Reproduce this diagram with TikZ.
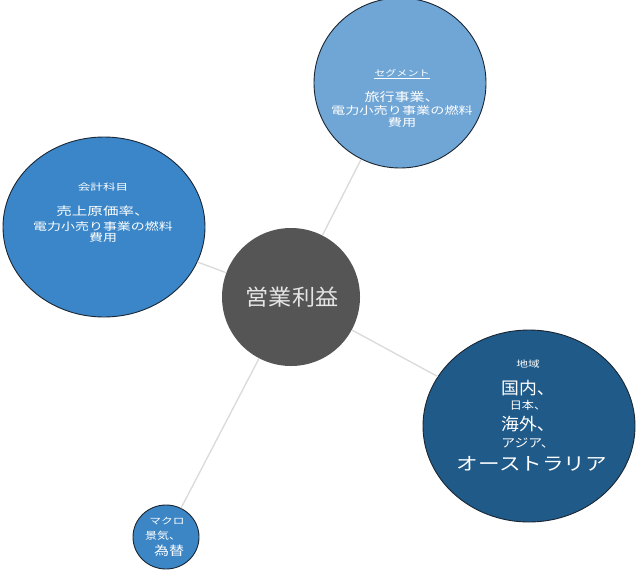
\documentclass[tikz,border=0pt]{standalone}
\usepackage{graphicx}
\usepackage{fontspec}
\newfontfamily\jp{Noto Sans CJK JP}
\usetikzlibrary{shapes.geometric}
\definecolor{segblue}{HTML}{70A6D6}
\definecolor{accblue}{HTML}{3A86C8}
\definecolor{regblue}{HTML}{1F5A88}
\definecolor{macblue}{HTML}{3C86C6}
\definecolor{centergray}{HTML}{555555}
\definecolor{conngray}{HTML}{DADADA}
\definecolor{rim}{HTML}{1B2633}
\newcommand\jpline[3]{{\fontsize{#1}{#1}\selectfont\scalebox{#2}[1]{#3}}}
\tikzset{
  bubble/.style={ellipse, draw=rim, line width=0.9pt, inner sep=0pt},
  conn/.style={draw=conngray, line width=1.3pt},
  txt/.style={font=\jp, text=white, inner sep=0pt, align=center},
}
\begin{document}
\begin{tikzpicture}[x=1pt, y=-1pt]
\useasboundingbox (0,0) rectangle (636,581);
\fill[white] (0,0) rectangle (636,581);
% bubbles
\node[bubble, fill=segblue, minimum width=172pt, minimum height=170pt] (seg) at (400,83) {};
\node[bubble, fill=accblue, minimum width=202pt, minimum height=180pt] (acc) at (104,227) {};
\node[bubble, fill=regblue, minimum width=212pt, minimum height=192pt] (reg) at (529,426) {};
\node[bubble, fill=macblue, minimum width=66pt, minimum height=64pt] (mac) at (166,537) {};
\node[circle, fill=centergray, minimum size=138pt, inner sep=0pt] (ctr) at (291,297) {};
% connectors
\draw[conn] (ctr) -- (seg);
\draw[conn] (ctr) -- (acc);
\draw[conn] (ctr) -- (reg);
\draw[conn] (ctr) -- (mac);
% center text
\node[txt, text=black!10] (ctrt) at (292,297) {\jpline{22}{1.05}{営業利益}};
% segment text
\node[txt] (segh) at (402,74) {\jpline{8.5}{1.3}{\underline{セグメント}}};
\node[txt] (seg1) at (402,97) {\jpline{12}{1.25}{旅行事業、}};
\node[txt] (seg2) at (402,111) {\jpline{10.5}{1.35}{電力小売り事業の燃料}};
\node[txt] (seg3) at (402,123) {\jpline{10.5}{1.35}{費用}};
% accounting text
\node[txt] (acch) at (103,187) {\jpline{9}{1.4}{会計科目}};
\node[txt] (acc1) at (103,211) {\jpline{11.5}{1.35}{売上原価率、}};
\node[txt] (acc2) at (103,226) {\jpline{10.5}{1.33}{電力小売り事業の燃料}};
\node[txt] (acc3) at (103,238) {\jpline{10.5}{1.33}{費用}};
% region text
\node[txt] (regh) at (528,364) {\jpline{9}{1.3}{地域}};
\node[txt] (reg1) at (528,388) {\jpline{17}{1.05}{国内、}};
\node[txt] (reg2) at (528,405) {\jpline{11}{1.1}{日本、}};
\node[txt] (reg3) at (528,424) {\jpline{17}{1.05}{海外、}};
\node[txt] (reg4) at (528,443) {\jpline{12}{1.15}{アジア、}};
\node[txt] (reg5) at (532,464) {\jpline{18}{1.2}{オーストラリア}};
% macro text
\node[txt] (mach) at (167,521) {\jpline{9}{1.3}{マクロ}};
\node[txt] (mac1) at (163,536) {\jpline{10}{1.2}{景気、}};
\node[txt] (mac2) at (169,551) {\jpline{12.5}{1.2}{為替}};
\end{tikzpicture}
\end{document}
